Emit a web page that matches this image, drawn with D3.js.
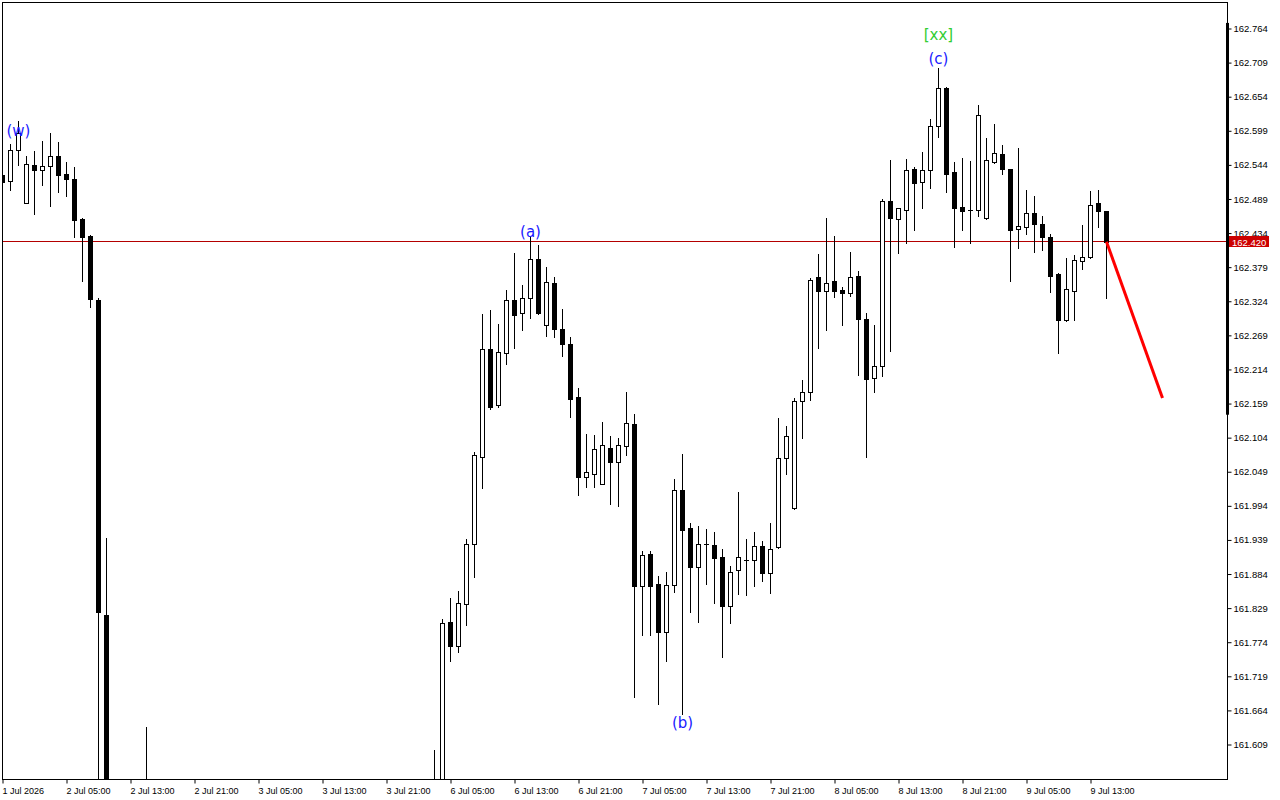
<!DOCTYPE html>
<html>
<head>
<meta charset="utf-8">
<script src="https://cdn.jsdelivr.net/npm/d3@7/dist/d3.min.js"></script>
<style>
  html, body { margin: 0; padding: 0; background: #ffffff; }
  svg { display: block; }
</style>
</head>
<body>
<svg id="chart" width="1280" height="800"></svg>
<script>
// ---------- DATA (H1 bars, index 0 = 1 Jul 2026 21:00) ----------
const opens = [
162.528,162.518,162.568,162.483,162.544,162.536,162.543,162.558,162.529,162.521,
162.457,162.429,162.326,161.818,161.420,161.360,161.410,161.390,161.470,161.500,
161.440,161.400,161.430,161.460,161.420,161.380,161.400,161.440,161.450,161.410,
161.370,161.400,161.450,161.480,161.460,161.430,161.450,161.490,161.470,161.440,
161.420,161.410,161.380,161.360,161.390,161.420,161.440,161.430,161.410,161.420,
161.430,161.440,161.470,161.490,161.500,161.520,161.807,161.768,161.836,161.933,
162.072,162.247,162.156,162.241,162.326,162.305,162.329,162.392,162.285,162.353,
162.279,162.255,162.169,162.041,162.045,162.030,162.088,162.064,162.091,162.126,
161.865,161.916,161.868,161.791,161.866,162.020,161.958,161.896,161.933,161.931,
161.911,161.833,161.890,161.907,161.906,161.930,161.885,161.927,162.071,161.990,
162.163,162.178,162.363,162.341,162.357,162.342,162.338,162.364,162.295,162.201,
162.220,162.485,162.457,162.472,162.537,162.517,162.536,162.607,162.668,162.532,
162.476,162.471,162.472,162.458,162.548,162.562,162.537,162.440,162.443,162.466,
162.449,162.428,162.368,162.293,162.341,162.389,162.396,162.483,162.470];
const highs = [
162.536,162.578,162.615,162.558,162.566,162.583,162.596,162.581,162.549,162.540,
162.458,162.431,162.329,161.942,161.480,161.440,161.470,161.520,161.637,161.530,
161.480,161.450,161.490,161.500,161.460,161.420,161.450,161.480,161.470,161.440,
161.420,161.460,161.510,161.520,161.490,161.470,161.500,161.530,161.500,161.460,
161.450,161.440,161.410,161.400,161.440,161.460,161.470,161.450,161.440,161.450,
161.460,161.490,161.510,161.530,161.600,161.811,161.845,161.857,161.940,162.081,
162.303,162.310,162.287,162.342,162.402,162.350,162.428,162.415,162.379,162.363,
162.311,162.267,162.184,162.110,162.108,162.129,162.107,162.103,162.178,162.142,
161.921,161.921,161.881,161.887,162.038,162.078,161.966,161.961,161.956,161.951,
161.924,161.897,162.016,161.940,161.951,161.937,161.967,162.135,162.123,162.168,
162.197,162.361,162.400,162.458,162.429,162.347,162.403,162.373,162.305,162.286,
162.489,162.552,162.475,162.554,162.541,162.564,162.618,162.701,162.669,162.548,
162.555,162.550,162.641,162.588,162.610,162.576,162.538,162.572,162.503,162.494,
162.461,162.432,162.369,162.393,162.399,162.447,162.502,162.503,162.470];
const lows = [
162.512,162.503,162.544,162.482,162.465,162.512,162.478,162.501,162.493,162.428,
162.356,162.314,161.450,161.350,161.310,161.300,161.370,161.380,161.430,161.420,
161.380,161.350,161.400,161.410,161.370,161.330,161.380,161.420,161.400,161.360,
161.340,161.390,161.430,161.440,161.410,161.400,161.430,161.460,161.420,161.390,
161.380,161.360,161.330,161.320,161.370,161.400,161.410,161.390,161.380,161.400,
161.410,161.420,161.450,161.460,161.470,161.500,161.744,161.758,161.802,161.880,
162.022,162.151,162.154,162.223,162.249,162.277,162.297,162.304,162.268,162.267,
162.236,162.138,162.011,162.025,162.025,162.029,161.997,161.994,162.076,161.686,
161.786,161.786,161.675,161.743,161.855,161.659,161.822,161.807,161.868,161.838,
161.750,161.805,161.851,161.850,161.864,161.872,161.853,161.926,162.046,161.989,
162.104,162.164,162.249,162.278,162.331,162.285,162.333,162.205,162.072,162.178,
162.203,162.244,162.402,162.418,162.439,162.475,162.507,162.589,162.501,162.412,
162.439,162.418,162.462,162.457,162.547,162.529,162.356,162.410,162.433,162.404,
162.407,162.339,162.241,162.292,162.294,162.376,162.394,162.443,162.329];
const closes = [
162.516,162.568,162.595,162.545,162.536,162.543,162.558,162.527,162.521,162.455,
162.428,162.328,161.823,161.420,161.360,161.410,161.390,161.470,161.500,161.440,
161.400,161.430,161.460,161.420,161.380,161.400,161.440,161.450,161.410,161.370,
161.400,161.450,161.480,161.460,161.430,161.450,161.490,161.470,161.440,161.420,
161.410,161.380,161.360,161.390,161.420,161.440,161.430,161.410,161.420,161.430,
161.440,161.470,161.490,161.500,161.520,161.805,161.768,161.837,161.932,162.076,
162.247,162.154,162.242,162.326,162.302,162.329,162.392,162.305,162.355,162.279,
162.255,162.167,162.041,162.048,162.085,162.092,162.064,162.092,162.127,161.865,
161.915,161.865,161.791,161.866,162.020,161.955,161.896,161.932,161.932,161.910,
161.832,161.888,161.911,161.906,161.929,161.885,161.925,162.071,162.106,162.163,
162.177,162.358,162.341,162.353,162.341,162.337,162.363,162.295,162.199,162.220,
162.485,162.458,162.474,162.535,162.514,162.535,162.606,162.668,162.529,162.475,
162.470,162.471,162.624,162.552,162.563,162.538,162.439,162.445,162.466,162.448,
162.427,162.365,162.293,162.344,162.391,162.395,162.479,162.470,162.420];

const priceTicks = [162.764,162.709,162.654,162.599,162.544,162.489,162.434,162.379,162.324,
  162.269,162.214,162.159,162.104,162.049,161.994,161.939,161.884,161.829,161.774,161.719,161.664,161.609];
const timeTickBars = [0,8,16,24,32,40,48,56,64,72,80,88,96,104,112,120,128,136];
const timeTickLabels = ["1 Jul 2026","2 Jul 05:00","2 Jul 13:00","2 Jul 21:00","3 Jul 05:00","3 Jul 13:00",
  "3 Jul 21:00","6 Jul 05:00","6 Jul 13:00","6 Jul 21:00","7 Jul 05:00","7 Jul 13:00","7 Jul 21:00",
  "8 Jul 05:00","8 Jul 13:00","8 Jul 21:00","9 Jul 05:00","9 Jul 13:00"];

const waveLabels = ["(w)","(a)","(b)","(c)","[xx]"];
const waveBars   = [2, 66, 85, 117, 117];
const wavePrices = [162.599, 162.435, 161.644, 162.714, 162.753];

const currentPrice = 162.420;
const forecastBars   = [138, 145];
const forecastPrices = [162.420, 162.168];
const scaleBarPrices = [162.773, 162.141];

// ---------- LAYOUT ----------
const plotL = 2, plotT = 2, plotR = 1227, plotB = 779;
const svg = d3.select("#chart");

const x = d3.scaleLinear().domain([0, 145]).range([2.5, 1162.5]);
const y = d3.scaleLinear().domain([161.609, 162.764]).range([744.5, 28.5]);
const ry = v => Math.round(y(v));

svg.append("rect").attr("width", 1280).attr("height", 800).attr("fill", "#ffffff");

svg.append("defs").append("clipPath").attr("id", "plotClip")
  .append("rect").attr("x", plotL + 0.5).attr("y", plotT + 0.5)
  .attr("width", plotR - plotL - 0.5).attr("height", plotB - plotT - 0.5);

const plot = svg.append("g").attr("clip-path", "url(#plotClip)");

// current price line
plot.append("line")
  .attr("x1", plotL).attr("x2", plotR)
  .attr("y1", ry(currentPrice) - 0.5).attr("y2", ry(currentPrice) - 0.5)
  .attr("stroke", "#b40000").attr("stroke-width", 1);

// candles
const bars = d3.range(opens.length).map(i => ({
  i, o: opens[i], h: highs[i], l: lows[i], c: closes[i]
}));

const cg = plot.append("g");
bars.forEach(d => {
  const cx = x(d.i);
  const yh = ry(d.h), yl = ry(d.l);
  cg.append("line").attr("x1", cx).attr("x2", cx)
    .attr("y1", yh).attr("y2", yl + 1)
    .attr("stroke", "#000").attr("stroke-width", 1);
  const top = ry(Math.max(d.o, d.c)), bot = ry(Math.min(d.o, d.c));
  const bull = d.c > d.o;
  if (bot - top >= 1) {
    cg.append("rect")
      .attr("x", cx - 2).attr("y", top + 0.5)
      .attr("width", 4).attr("height", bot - top)
      .attr("fill", bull ? "#ffffff" : "#000000")
      .attr("stroke", "#000").attr("stroke-width", 1);
  } else {
    cg.append("line").attr("x1", cx - 2.5).attr("x2", cx + 2.5)
      .attr("y1", top + 0.5).attr("y2", top + 0.5)
      .attr("stroke", "#000").attr("stroke-width", 1);
  }
});

// forecast line
plot.append("path")
  .datum(forecastBars.map((b, k) => [x(b), y(forecastPrices[k])]))
  .attr("d", d3.line())
  .attr("fill", "none").attr("stroke", "#ff0000").attr("stroke-width", 3);

// wave labels
plot.selectAll("text.wave").data(waveLabels).join("text")
  .attr("class", "wave")
  .attr("x", (d, k) => x(waveBars[k]))
  .attr("y", (d, k) => y(wavePrices[k]))
  .attr("text-anchor", "middle")
  .attr("dominant-baseline", "central")
  .attr("font-family", "DejaVu Sans, sans-serif")
  .attr("font-size", "15px")
  .attr("fill", d => d.startsWith("[") ? "#32cd32" : "#1a1aff")
  .text(d => d);

// frame
svg.append("rect")
  .attr("x", plotL + 0.5).attr("y", plotT + 0.5)
  .attr("width", plotR - plotL).attr("height", plotB - plotT)
  .attr("fill", "none").attr("stroke", "#000").attr("stroke-width", 1);

// price axis
const yAxis = d3.axisRight(y).tickValues(priceTicks).tickFormat(d3.format(".3f"))
  .tickSize(4).tickPadding(2);
const ya = svg.append("g").attr("transform", `translate(${plotR + 0.5},0)`).call(yAxis);
ya.select(".domain").remove();
ya.selectAll(".tick line").attr("stroke", "#000");
ya.selectAll(".tick text").attr("fill", "#000")
  .attr("font-family", "Liberation Sans, Arial, sans-serif").attr("font-size", "9.5px");

// thick scale bar on price axis
svg.append("rect")
  .attr("x", plotR - 1).attr("width", 3)
  .attr("y", y(scaleBarPrices[0])).attr("height", y(scaleBarPrices[1]) - y(scaleBarPrices[0]))
  .attr("fill", "#000");

// time axis
const xAxis = d3.axisBottom(x).tickValues(timeTickBars)
  .tickFormat((d, k) => timeTickLabels[k]).tickSize(4).tickPadding(4);
const xa = svg.append("g").attr("transform", `translate(0,${plotB + 0.5})`).call(xAxis);
xa.select(".domain").remove();
xa.selectAll(".tick line").attr("stroke", "#000");
xa.selectAll(".tick text").attr("fill", "#000").attr("text-anchor", "start").attr("dx", "-0.5")
  .attr("font-family", "Liberation Sans, Arial, sans-serif").attr("font-size", "9px");

// current price tag
const tagY = ry(currentPrice);
svg.append("rect").attr("x", plotR + 2).attr("y", tagY - 6)
  .attr("width", 40).attr("height", 11).attr("fill", "#cc0000");
svg.append("text").attr("x", plotR + 5).attr("y", tagY)
  .attr("dominant-baseline", "central")
  .attr("font-family", "Liberation Sans, Arial, sans-serif").attr("font-size", "9.5px")
  .attr("fill", "#ffffff").text(d3.format(".3f")(currentPrice));
</script>
</body>
</html>
